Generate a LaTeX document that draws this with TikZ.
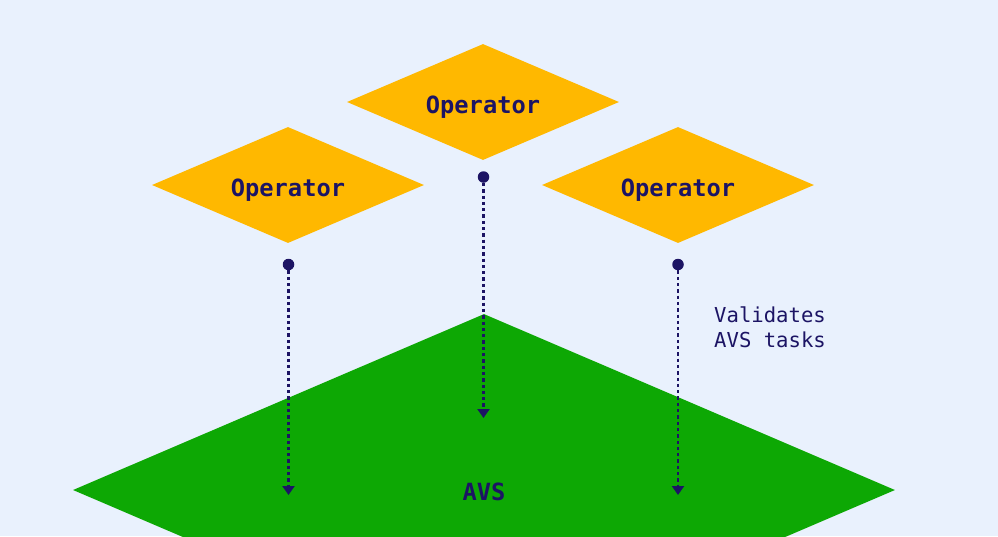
\documentclass[tikz,border=0pt]{standalone}
\usepackage{fontspec}
\setmonofont{DejaVu Sans Mono}
\usetikzlibrary{shapes.geometric,arrows.meta}
\definecolor{fondo}{HTML}{E9F1FD}
\definecolor{amar}{HTML}{FFB800}
\definecolor{verde}{HTML}{0DA804}
\definecolor{tinta}{HTML}{1C1464}
\newcommand{\flecha}[2]{\draw[flujo] (#1) -- (#2);}

\begin{document}
\begin{tikzpicture}[x=1pt,y=-1pt,
  oper/.style={diamond,aspect=2.345,fill=amar,inner sep=0pt,minimum width=272pt,minimum height=116pt,
    text=tinta,text height=22pt,text depth=0pt,font=\ttfamily\bfseries\fontsize{23.7}{28}\selectfont},
  punto/.style={circle,fill=tinta,inner sep=0pt,minimum size=11.5pt},
  flujo/.style={tinta,line width=2.2pt,dash pattern=on 3.3pt off 3pt,
    -{Triangle[width=12pt,length=9pt]}}]
  % fondo
  \fill[fondo] (0,0) rectangle (998,536);
  \useasboundingbox (0,0) rectangle (998,536);

  % AVS
  \begin{scope}
    \clip (0,0) rectangle (998,536);
    \node[diamond,aspect=2.345,fill=verde,inner sep=0pt,minimum width=822pt,minimum height=352pt] (avs) at (484,490) {};
  \end{scope}
  \node[text=tinta,font=\ttfamily\bfseries\fontsize{23.7}{28}\selectfont] (avst) at (484,492) {AVS};

  % operadores
  \node[oper] (op1) at (288,185) {Operator};
  \node[oper] (op2) at (483,102) {Operator};
  \node[oper] (op3) at (678,185) {Operator};

  % puntos y flechas
  \node[punto] (p1) at (288.5,264.5) {};
  \node[punto] (p2) at (483.5,177) {};
  \node[punto] (p3) at (678,264.5) {};
  \coordinate (f1) at (288.5,495);
  \coordinate (f2) at (483.5,418);
  \coordinate (f3) at (678,495);
  \flecha{p1}{f1}
  \flecha{p2}{f2}
  \flecha{p3}{f3}

  % texto
  \node[anchor=west,align=left,text=tinta,inner sep=0pt,
    font=\ttfamily\fontsize{20.6}{25}\selectfont] (val) at (714,327) {Validates\\AVS tasks};
\end{tikzpicture}
\end{document}
